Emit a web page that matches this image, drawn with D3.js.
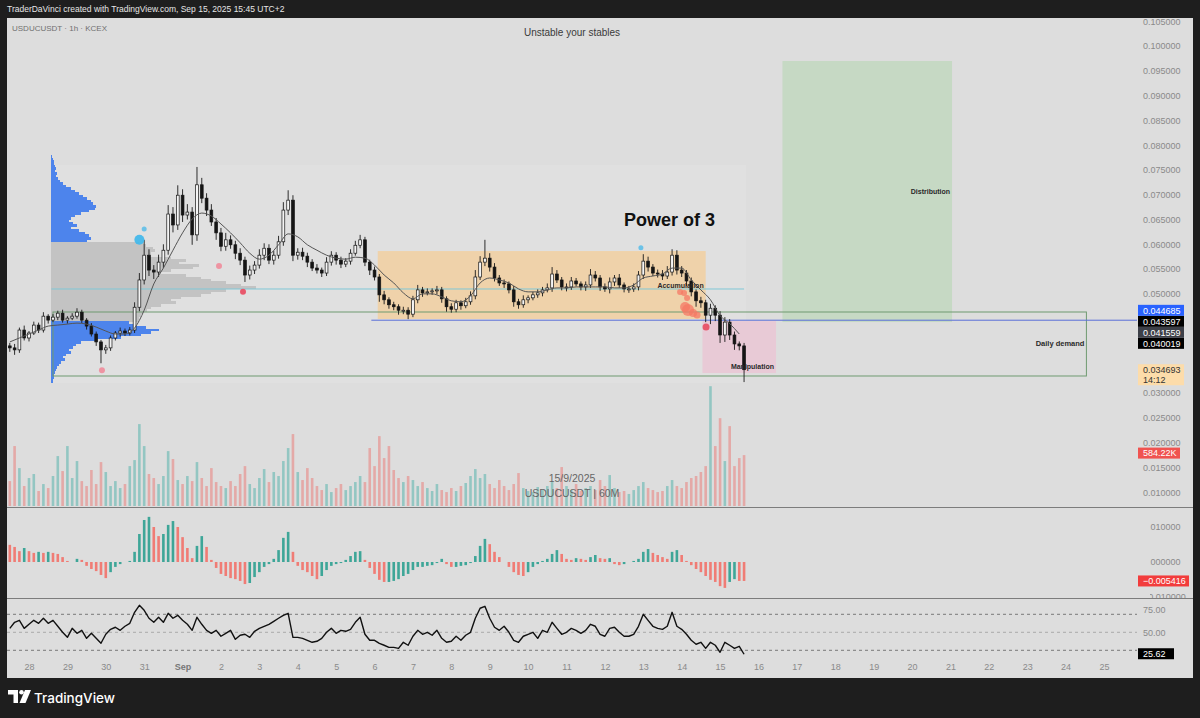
<!DOCTYPE html>
<html>
<head>
<meta charset="utf-8">
<script src="https://cdn.jsdelivr.net/npm/d3@7"></script>
<style>
  body { margin: 0; background: #1e1e1e; }
  svg { display: block; font-family: "Liberation Sans", Arial, sans-serif; }
</style>
</head>
<body>
<svg id="chart" width="1200" height="718"></svg>
<script>
// USDUCUSDT, 3h bars starting Aug 27 12:00; prices in 1e-4 USDT
const firstOpen = 395;
const closes = [
  391,387,427,411,421,437,427,455,447,453,
  461,447,451,455,463,447,435,419,403,387,
  391,411,421,425,421,427,473,528,578,548,
  544,564,588,661,639,699,659,665,619,720,
  693,669,645,623,596,609,599,582,568,538,
  548,558,578,592,568,578,605,669,689,578,
  584,576,564,552,548,542,564,578,568,560,
  566,582,598,609,564,548,534,498,488,478,
  474,467,467,459,488,508,502,504,506,508,
  490,474,469,482,476,484,496,534,564,572,
  554,532,522,520,508,484,478,488,492,498,
  502,508,512,540,528,514,514,526,520,514,
  518,538,532,514,510,524,532,518,510,510,
  514,538,566,554,542,540,536,544,578,548,
  542,526,504,486,482,457,471,457,417,443,
  417,399,395,347
];
// wick length above the body / below the body, 1e-4 USDT
const highWick = [
  6,8,5,9,4,7,5,8,4,6, 5,7,4,6,8,5,4,6,5,4,
  6,5,4,7,5,6,10,14,31,12, 10,15,12,18,14,20,12,16,10,36,
  14,10,12,8,10,14,9,8,10,7, 9,8,12,10,8,9,12,16,20,10,
  8,9,7,6,8,5,10,8,6,7, 6,8,9,10,6,5,7,6,8,5,
  6,5,7,6,8,10,6,7,5,8, 6,5,7,6,5,8,9,14,12,37,
  10,8,6,7,5,8,6,9,5,6, 7,6,9,14,8,6,7,8,6,5,
  7,12,8,6,7,9,6,8,5,6, 7,8,14,9,6,7,8,12,12,10,
  8,6,7,5,8,6,9,6,8,10, 6,7,5,6
];
const lowWick = [
  8,10,6,5,7,4,6,5,7,4, 6,5,7,4,5,6,7,5,8,27,
  8,6,5,7,6,5,6,8,9,12, 14,10,12,9,15,10,14,9,20,12,
  10,12,8,14,10,9,8,12,10,14, 9,8,7,10,8,9,7,8,10,12,
  9,8,10,6,7,8,6,7,9,8, 6,7,5,6,8,10,7,14,9,8,
  7,9,8,10,6,7,8,5,6,7, 8,10,7,6,8,5,6,7,6,8,
  9,7,6,8,7,10,8,6,7,5, 6,7,5,8,6,7,9,6,5,7,
  8,6,7,8,6,9,8,6,7,8, 6,7,8,9,6,7,8,6,7,9,
  8,10,9,12,10,14,18,12,16,14, 10,12,9,25
];
// volume, thousands
const volumes = [
  286,688,435,229,321,367,172,252,206,344,
  573,401,688,321,516,286,229,413,252,504,
  390,229,286,206,252,458,527,940,688,367,
  321,252,344,630,539,298,252,344,286,504,
  321,229,435,275,229,206,286,229,367,458,
  252,206,321,424,275,390,344,516,665,825,
  390,298,435,321,229,183,252,160,206,252,
  183,229,275,344,275,665,458,802,550,688,
  413,321,275,344,298,229,275,206,172,252,
  183,160,206,172,229,264,344,424,321,367,
  252,206,298,229,183,252,378,206,172,160,
  218,183,229,275,206,447,229,183,252,172,
  206,229,183,298,229,355,206,160,172,138,
  183,229,275,206,183,160,172,229,298,229,
  206,275,321,344,390,458,1375,688,1008,516,
  917,458,550,584.22
];
// MACD histogram, 1e-4
const macdHist = [
  49,43,31,40,31,26,29,26,29,26,
  23,14,3,0,9,6,-11,-20,-26,-37,
  -46,-29,-14,-6,0,3,29,80,120,129,
  100,74,80,106,117,100,71,40,11,46,
  74,43,6,-17,-34,-40,-46,-49,-54,-63,
  -60,-43,-29,-14,-6,9,34,69,86,29,
  -11,-23,-29,-40,-49,-40,-23,-11,-6,-3,
  6,17,29,31,6,-17,-34,-51,-57,-57,
  -54,-49,-40,-34,-23,-14,-14,-11,-9,-3,
  9,-6,-14,-14,-11,-9,-3,17,46,66,
  51,29,14,0,-14,-29,-37,-40,-29,-14,
  -6,3,9,23,34,23,9,6,11,9,
  6,14,20,11,9,11,-6,-9,-6,0,
  3,9,29,37,26,20,14,9,29,34,
  20,3,-9,-20,-29,-40,-51,-57,-69,-74,
  -57,-49,-54,-54.16
];
const rsiValues = [
  54.4,61.1,63.3,54.4,58.9,63.3,60,65.6,60,63.3,
  56.7,50,44.4,54.4,48.9,52.2,43.3,48.9,43.3,37.8,
  47.8,53.3,55.6,52.2,56.7,60,72.2,80,74.4,65.6,
  61.1,66.7,61.1,71.1,65.6,68.9,63.3,58.9,52.2,66.7,
  58.9,52.2,48.9,52.2,45.6,48.9,52.2,42.2,46.7,47.8,
  44.4,51.1,54.4,56.7,58.9,62.2,65.6,68.9,71.1,44.4,
  44.4,43.3,41.1,38.9,40,43.3,50,54.4,48.9,52.2,
  51.1,53.3,61.1,66.7,47.8,41.1,41.1,37.8,35.6,33.3,
  33.3,32.2,38.9,35.6,45.6,52.2,47.8,50,46.7,52.2,
  43.3,38.9,40,45.6,41.1,46.7,50,65.6,76.7,78.9,
  65.6,55.6,52.2,56.7,50,41.1,38.9,45.6,47.8,50,
  43.3,52.2,50,61.1,54.4,47.8,50,54.4,52.2,48.9,
  52.2,58.9,56.7,47.8,45.6,54.4,55.6,50,45.6,45.6,
  47.8,56.7,70,63.3,56.7,54.4,53.3,56.7,72.2,56.7,
  53.3,47.8,41.1,36.7,38.9,32.2,38.9,35.6,27.8,38.9,
  35.6,32.2,34.4,25.62
];
// moving average, every 6h, 1e-4 USDT
const maValues = [
  403,411,419,427,435,437,439,441,439,433,
  425,419,419,431,467,520,552,588,623,651,
  663,657,641,623,603,582,570,578,599,621,
  615,599,588,578,572,570,574,572,558,538,
  522,502,490,500,500,494,486,484,496,522,
  532,528,522,510,504,504,508,512,512,514,
  514,514,514,512,512,518,532,536,540,552,
  552,528,508,488,456,440,419
];
// visible range volume profile, rows of 0.0005 from 0.0780 down
const profileVolume = [
  1,2,3,3,4,5,4,6,5,7,9,12,15,20,24,28,32,36,40,42,
  45,44,38,30,24,20,18,22,26,20,28,34,38,40,36,
  88,95,102,104,100,98,120,135,128,148,142,120,110,135,150,160,175,190,205,175,
  160,150,130,120,125,110,100,96,92,90,88,88,
  78,85,95,108,100,90,70,45,30,25,22,18,20,15,12,14,10,8,6,5,4,3,3,2,2
];
const profileTopPrice = 0.0780;
const valueArea = [0.0445, 0.0605];
const pocPrice = 0.05098;

// price labels on the right scale
const priceMarks = [
  { value: 0.044685, bg: "#2962ff" },
  { value: 0.043597, bg: "#000000" },
  { value: 0.041559, bg: "#3d4048" },
  { value: 0.040019, bg: "#000000" }
];
const lastPrice = 0.034693;
const countdown = "14:12";

// drawings
const zones = [
  { label: "Distribution", t0: [2025, 8, 16, 15], t1: [2025, 8, 21, 1], p0: 0.04432, p1: 0.09697, fill: "#c6d9c4", labelPos: "middle" },
  { label: "Accumulation", t0: [2025, 8, 6, 2], t1: [2025, 8, 14, 15], p0: 0.04493, p1: 0.05864, fill: "#efd2aa", labelPos: "middle" },
  { label: "Manipulation", t0: [2025, 8, 14, 13], t1: [2025, 8, 16, 11], p0: 0.03403, p1: 0.04452, fill: "#e8cad6", labelPos: "bottom" }
];
const demandZone = { label: "Daily demand", t0: [2025, 7, 28, 15], t1: [2025, 8, 24, 13], p0: 0.03343, p1: 0.04634 };
const blueLine = { t0: [2025, 8, 5, 22], price: 0.044685 };
const pivotHighs = [
  { t: [2025, 7, 30, 21], p: 0.0609, r: 5 },
  { t: [2025, 7, 31, 0], p: 0.0631, r: 2.5 },
  { t: [2025, 8, 12, 22, 30], p: 0.0593, r: 2.5 }
];
const pivotLows = [
  { t: [2025, 7, 29, 21, 36], p: 0.0346, r: 3, kind: "weak" },
  { t: [2025, 8, 1, 22, 47], p: 0.0556, r: 3, kind: "weak" },
  { t: [2025, 8, 2, 13, 47], p: 0.0504, r: 3, kind: "strong" },
  { t: [2025, 8, 13, 23], p: 0.05037, r: 3, kind: "cluster" },
  { t: [2025, 8, 14, 1, 30], p: 0.05017, r: 3, kind: "cluster" },
  { t: [2025, 8, 14, 3, 22], p: 0.04916, r: 3, kind: "cluster" },
  { t: [2025, 8, 14, 2, 7], p: 0.04735, r: 5, kind: "cluster" },
  { t: [2025, 8, 14, 4], p: 0.04674, r: 6, kind: "cluster" },
  { t: [2025, 8, 14, 7, 7], p: 0.04614, r: 4, kind: "cluster" },
  { t: [2025, 8, 14, 9, 36], p: 0.04573, r: 3.5, kind: "cluster" },
  { t: [2025, 8, 14, 15, 14], p: 0.04331, r: 3.5, kind: "strong" }
];
const dotColor = { weak: "#ee94a2", strong: "#e8586c", cluster: "rgba(245,120,100,0.75)" };
const titleNote = { text: "Power of 3", t: [2025, 8, 12, 12], p: 0.0637 };

const utc = a => new Date(Date.UTC(a[0], a[1], a[2], a[3] || 0, a[4] || 0));

function init() {
    const svg = d3.select("#chart");
    const panel = { left: 7, right: 1193, top: 18, bottom: 678 };
    const plotRight = 1137;
    const axisX = 1143;

    // scales
    var x = d3.scaleUtc()
        .domain([utc([2025, 7, 28]), utc([2025, 8, 25])])
        .range([29, 1104]);
    var y = d3.scaleLinear().domain([0.03, 0.1]).range([393, 46]);
    var yVol = d3.scaleLinear().domain([0, 1400]).range([506, 384]);
    var yMacd = d3.scaleLinear().domain([-0.01, 0.01]).range([597, 527]);
    var yRsi = d3.scaleLinear().domain([30, 70]).range([650.3, 614.3]);

    const start = utc([2025, 7, 27, 12]);
    const bars = closes.map((c, i) => {
        const o = i === 0 ? firstOpen : closes[i - 1];
        return {
            t: d3.utcHour.offset(start, 3 * i),
            o: o / 1e4, c: c / 1e4,
            h: (Math.max(o, c) + highWick[i]) / 1e4,
            l: (Math.min(o, c) - lowWick[i]) / 1e4,
            v: volumes[i],
            macd: macdHist[i] / 1e4,
            rsi: rsiValues[i]
        };
    });
    const lastT = bars[bars.length - 1].t;

    // frame
    svg.append("rect").attr("width", 1200).attr("height", 718).attr("fill", "#1e1e1e");
    svg.append("rect")
        .attr("x", panel.left).attr("y", panel.top)
        .attr("width", panel.right - panel.left).attr("height", panel.bottom - panel.top)
        .attr("fill", "#dddddd");

    svg.append("text")
        .attr("x", 7).attr("y", 12)
        .attr("font-size", 8.5).attr("fill", "#e6e6e6")
        .text("TraderDaVinci created with TradingView.com, Sep 15, 2025 15:45 UTC+2");

    svg.append("defs").append("clipPath").attr("id", "mainClip")
        .append("rect").attr("x", panel.left).attr("y", panel.top)
        .attr("width", plotRight - panel.left).attr("height", 507 - panel.top);
    svg.select("defs").append("clipPath").attr("id", "macdClip")
        .append("rect").attr("x", panel.left).attr("y", 508)
        .attr("width", panel.right - panel.left).attr("height", 90);

    const main = svg.append("g").attr("clip-path", "url(#mainClip)");

    // volume profile range box
    const vpStart = utc([2025, 7, 28, 14]);
    const rowH = y(0) - y(0.0005);
    const profileBottom = profileTopPrice - profileVolume.length * 0.0005;
    main.append("rect")
        .attr("x", x(vpStart)).attr("y", y(profileTopPrice - 0.002))
        .attr("width", x(lastT) + 2 - x(vpStart))
        .attr("height", y(profileBottom) - y(profileTopPrice - 0.002))
        .attr("fill", "rgba(255,255,255,0.09)");

    // zones
    main.selectAll(".zone").data(zones).enter().append("rect")
        .attr("class", "zone")
        .attr("x", d => x(utc(d.t0)))
        .attr("y", d => y(d.p1))
        .attr("width", d => x(utc(d.t1)) - x(utc(d.t0)))
        .attr("height", d => y(d.p0) - y(d.p1))
        .attr("fill", d => d.fill);

    // volume profile rows
    var vx = d3.scaleLinear().domain([0, 100]).range([x(vpStart), x(vpStart) + 100]);
    main.append("g").attr("shape-rendering", "crispEdges")
        .selectAll("rect").data(profileVolume).enter().append("rect")
        .attr("x", vx(0))
        .attr("y", (d, i) => y(profileTopPrice - i * 0.0005))
        .attr("width", d => vx(d) - vx(0))
        .attr("height", rowH + 0.4)
        .attr("fill", (d, i) => {
            const p = profileTopPrice - (i + 0.5) * 0.0005;
            return (p >= valueArea[0] && p <= valueArea[1]) ? "#c3c3c3" : "#4d84ec";
        });

    // demand box
    main.append("rect")
        .attr("x", x(utc(demandZone.t0))).attr("y", y(demandZone.p1))
        .attr("width", x(utc(demandZone.t1)) - x(utc(demandZone.t0)))
        .attr("height", y(demandZone.p0) - y(demandZone.p1))
        .attr("fill", "none").attr("stroke", "#6f9a70").attr("stroke-width", 1);

    // POC line and level line
    main.append("line")
        .attr("x1", x(vpStart)).attr("x2", x(lastT))
        .attr("y1", y(pocPrice)).attr("y2", y(pocPrice))
        .attr("stroke", "#7fc7d6").attr("stroke-width", 1);
    main.append("line")
        .attr("x1", x(utc(blueLine.t0))).attr("x2", plotRight)
        .attr("y1", y(blueLine.price)).attr("y2", y(blueLine.price))
        .attr("stroke", "#5a6fd8").attr("stroke-width", 1);

    // volume bars
    main.append("g").selectAll("rect").data(bars).enter().append("rect")
        .attr("x", d => x(d.t) - 1.3)
        .attr("y", d => yVol(d.v))
        .attr("width", 2.6)
        .attr("height", d => yVol(0) - yVol(d.v))
        .attr("fill", d => d.c >= d.o ? "rgba(38,166,154,0.4)" : "rgba(239,83,80,0.38)");

    // candles
    const candles = main.append("g");
    candles.selectAll("line").data(bars).enter().append("line")
        .attr("x1", d => x(d.t)).attr("x2", d => x(d.t))
        .attr("y1", d => y(d.h)).attr("y2", d => y(d.l))
        .attr("stroke", "#1a1a1a").attr("stroke-width", 0.9);
    candles.selectAll("rect").data(bars).enter().append("rect")
        .attr("x", d => x(d.t) - 1.4)
        .attr("y", d => y(Math.max(d.o, d.c)))
        .attr("width", 2.8)
        .attr("height", d => Math.max(1, Math.abs(y(d.o) - y(d.c))))
        .attr("fill", d => d.c >= d.o ? "#f4f4f4" : "#151515")
        .attr("stroke", "#151515").attr("stroke-width", 0.7);

    // moving average
    const ma = maValues.map((v, k) => ({ t: d3.utcHour.offset(start, 6 * k), v: v / 1e4 }));
    main.append("path").datum(ma)
        .attr("fill", "none").attr("stroke", "#555").attr("stroke-width", 1)
        .attr("d", d3.line().x(d => x(d.t)).y(d => y(d.v)).curve(d3.curveMonotoneX));

    // pivot dots
    main.selectAll(".ph").data(pivotHighs).enter().append("circle")
        .attr("cx", d => x(utc(d.t))).attr("cy", d => y(d.p)).attr("r", d => d.r)
        .attr("fill", "#45b8ea").attr("opacity", (d) => d.r > 3 ? 0.95 : 0.75);
    main.selectAll(".pl").data(pivotLows).enter().append("circle")
        .attr("cx", d => x(utc(d.t))).attr("cy", d => y(d.p)).attr("r", d => d.r)
        .attr("fill", d => dotColor[d.kind]);

    // zone labels
    const labelStyle = sel => sel.attr("font-size", 7).attr("font-weight", "bold")
        .attr("fill", "#2a2a2a").attr("text-anchor", "end");
    main.selectAll(".zl").data(zones).enter().append("text")
        .attr("x", d => x(utc(d.t1)) - 2)
        .attr("y", d => d.labelPos === "bottom" ? y(d.p0) - 4 : (y(d.p0) + y(d.p1)) / 2 + 2.5)
        .text(d => d.label)
        .call(labelStyle);
    main.append("text")
        .attr("x", x(utc(demandZone.t1)) - 2)
        .attr("y", (y(demandZone.p0) + y(demandZone.p1)) / 2 + 2.5)
        .text(demandZone.label)
        .call(labelStyle).attr("font-size", 7.5);

    main.append("text")
        .attr("x", x(utc(titleNote.t))).attr("y", y(titleNote.p))
        .attr("font-size", 18).attr("font-weight", "bold").attr("fill", "#111")
        .text(titleNote.text);

    // legend and watermark
    svg.append("text").attr("x", 12).attr("y", 31)
        .attr("font-size", 8).attr("fill", "#707070")
        .text("USDUCUSDT · 1h · KCEX");
    svg.append("text").attr("x", 572).attr("y", 36)
        .attr("font-size", 10).attr("fill", "#3a3a3a").attr("text-anchor", "middle")
        .text("Unstable your stables");
    svg.append("text").attr("x", 572).attr("y", 482)
        .attr("font-size", 10.5).attr("fill", "#666").attr("text-anchor", "middle")
        .text("15/9/2025");
    svg.append("text").attr("x", 572).attr("y", 497)
        .attr("font-size", 10.5).attr("fill", "#666").attr("text-anchor", "middle")
        .text("USDUCUSDT | 60M");

    // pane separators
    [507.5, 598.5].forEach(py => {
        svg.append("line").attr("x1", panel.left).attr("x2", panel.right)
            .attr("y1", py).attr("y2", py)
            .attr("stroke", "#7c7c7c").attr("stroke-width", 1);
    });

    // MACD histogram
    svg.append("g").selectAll("rect").data(bars).enter().append("rect")
        .attr("x", d => x(d.t) - 1.3)
        .attr("y", d => yMacd(Math.max(0, d.macd)))
        .attr("width", 2.6)
        .attr("height", d => Math.abs(yMacd(d.macd) - yMacd(0)))
        .attr("fill", (d, i) => (i > 0 && d.macd >= bars[i - 1].macd) ? "#3ea698" : "#f07c75");

    // RSI pane
    [[70, "#7a7a7a", "3,3"], [50, "#ababab", "3,3"], [30, "#7a7a7a", "3,3"]].forEach(([lv, col, dash]) => {
        svg.append("line").attr("x1", panel.left).attr("x2", plotRight)
            .attr("y1", yRsi(lv)).attr("y2", yRsi(lv))
            .attr("stroke", col).attr("stroke-width", 1).attr("stroke-dasharray", dash);
    });
    svg.append("path").datum(bars)
        .attr("fill", "none").attr("stroke", "#111").attr("stroke-width", 1.4)
        .attr("stroke-linejoin", "round")
        .attr("d", d3.line().x(d => x(d.t)).y(d => yRsi(d.rsi)));

    // price label boxes, stacked from the lowest
    var nextBottom = Infinity;
    const boxH = 11;
    const stacked = priceMarks.slice().sort((a, b) => a.value - b.value).map(m => {
        const cy = Math.min(y(m.value), nextBottom - boxH);
        nextBottom = cy;
        return Object.assign({ cy: cy }, m);
    });
    const lp = y(lastPrice);
    const covered = [[d3.min(stacked, d => d.cy) - boxH / 2, d3.max(stacked, d => d.cy) + boxH / 2], [lp - 5.5, lp + 15.5]];

    // axes
    const styleAxis = g => {
        g.select(".domain").remove();
        g.selectAll("text").attr("font-family", "Liberation Sans, Arial, sans-serif")
            .attr("font-size", 9).attr("fill", "#8a8a8a");
    };
    const priceTicks = d3.range(2, 22).map(k => k * 0.005)
        .filter(v => !covered.some(r => y(v) > r[0] - 3 && y(v) < r[1] + 3));
    svg.append("g").attr("transform", "translate(" + axisX + ",0)")
        .call(d3.axisRight(y).tickValues(priceTicks)
            .tickSize(0).tickPadding(0).tickFormat(d3.format(".6f")))
        .call(styleAxis);
    svg.append("g").attr("transform", "translate(" + axisX + ",0)")
        .attr("clip-path", "url(#macdClip)")
        .call(d3.axisRight(yMacd).tickValues([-0.01, 0, 0.01])
            .tickSize(0).tickPadding(0).tickFormat(d3.format(".6f")))
        .call(styleAxis);
    svg.append("g").attr("transform", "translate(" + axisX + ",0)")
        .call(d3.axisRight(d3.scaleLinear().domain([50, 75]).range([632.3, 610]))
            .tickValues([50, 75]).tickSize(0).tickPadding(0).tickFormat(d3.format(".2f")))
        .call(styleAxis);

    const days = d3.utcDay.range(utc([2025, 7, 28]), utc([2025, 8, 26]));
    svg.append("g").attr("transform", "translate(0,664)")
        .call(d3.axisBottom(x).tickValues(days).tickSize(0).tickPadding(0)
            .tickFormat(d => d.getUTCDate() === 1 ? "Sep" : d.getUTCDate()))
        .call(styleAxis)
        .selectAll("text")
        .attr("font-weight", d => d.getUTCDate() === 1 ? "bold" : "normal")
        .attr("fill", d => d.getUTCDate() === 1 ? "#777" : "#8a8a8a");

    stacked.forEach(m => {
        svg.append("rect").attr("x", 1138).attr("y", m.cy - boxH / 2)
            .attr("width", 46).attr("height", boxH).attr("fill", m.bg);
        svg.append("text").attr("x", axisX).attr("y", m.cy + 3.2)
            .attr("font-size", 9).attr("fill", "#fff").text(d3.format(".6f")(m.value));
    });

    svg.append("rect").attr("x", 1138).attr("y", lp - 5.5)
        .attr("width", 46).attr("height", 21).attr("fill", "#fddcaa");
    svg.append("text").attr("x", axisX).attr("y", lp + 3)
        .attr("font-size", 9).attr("fill", "#333").text(d3.format(".6f")(lastPrice));
    svg.append("text").attr("x", axisX).attr("y", lp + 13)
        .attr("font-size", 9).attr("fill", "#333").text(countdown);

    const lastBar = bars[bars.length - 1];
    const valueBox = (cy, w, bg, fg, label) => {
        svg.append("rect").attr("x", 1138).attr("y", cy - 5.5)
            .attr("width", w).attr("height", 11).attr("fill", bg);
        svg.append("text").attr("x", axisX).attr("y", cy + 3.2)
            .attr("font-size", 9).attr("fill", fg).text(label);
    };
    valueBox(yVol(lastBar.v) - 2, 42, "#f05350", "#fff", d3.format(".2f")(lastBar.v) + "K");
    valueBox(yMacd(lastBar.macd), 51, "#f23c3c", "#fff", d3.format(".6f")(lastBar.macd));
    valueBox(yRsi(lastBar.rsi) - 0.5, 36, "#000", "#fff", d3.format(".2f")(lastBar.rsi));

    // footer logo
    const logo = svg.append("g").attr("fill", "#ffffff");
    logo.append("path").attr("d", "M8 690 H18 V703 H13.5 V694.5 H8 Z");
    logo.append("circle").attr("cx", 21.5).attr("cy", 692.3).attr("r", 2.3);
    logo.append("path").attr("d", "M25 690 H31 L25.5 703 H19.5 Z");
    svg.append("text").attr("x", 34).attr("y", 702.5)
        .attr("font-size", 13.5).attr("font-weight", 500)
        .attr("font-family", "Inter, Liberation Sans, sans-serif")
        .attr("fill", "#fff").text("TradingView");
}

init();
</script>
</body>
</html>
